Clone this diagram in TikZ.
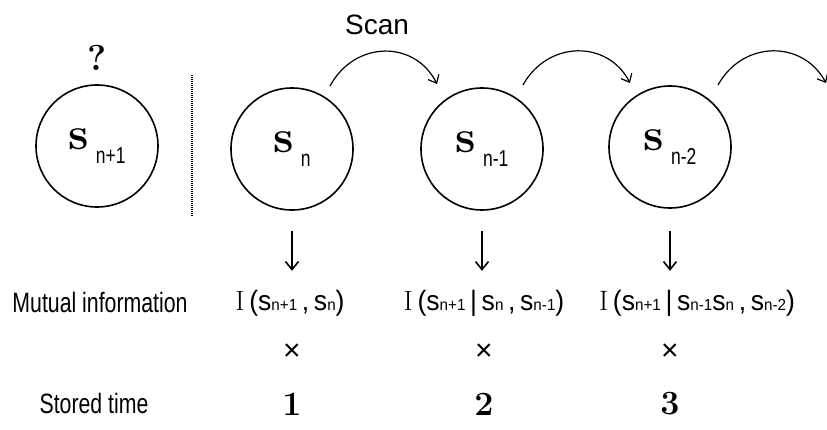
\documentclass[tikz,border=0pt]{standalone}
\usepackage{fontspec}
\newfontfamily\narrowf[FakeStretch=0.76]{Liberation Sans}
\newfontfamily\formf[FakeStretch=0.95]{Liberation Sans}
\newfontfamily\plainf{Liberation Sans}
\usetikzlibrary{arrows.meta}
\tikzset{
  state/.style={circle,draw,line width=1.6pt,minimum size=122pt,inner sep=0pt},
  lbl/.style={font=\narrowf\fontsize{28}{28}\selectfont,inner sep=0pt},
  formula/.style={font=\formf\fontsize{28}{28}\selectfont,inner sep=0pt},
  num/.style={font=\bfseries\fontsize{34}{34}\selectfont,inner sep=0pt},
  cross/.style={font=\plainf\fontsize{30}{30}\selectfont,inner sep=0pt},
  scanarc/.style={line width=1.2pt,-{Straight Barb[length=7pt,width=12pt]}},
  downarr/.style={line width=1.6pt,-{Straight Barb[length=8pt,width=13pt]}},
}
\newcommand{\sname}[1]{{\bfseries\fontsize{46}{46}\selectfont s}\hspace{7pt}\raisebox{-14pt}{\narrowf\fontsize{23}{23}\selectfont #1}}
\newcommand{\ssub}[1]{s{\fontsize{16}{16}\selectfont #1}}
\begin{document}
\begin{tikzpicture}[x=1pt,y=-1pt]
\useasboundingbox (0,0) rectangle (827,430);
% states
\node[state] (snp) at (97,146) {\sname{n+1}};
\node[state] (sn) at (292,149) {\sname{n}};
\node[state] (sn1) at (482,149) {\sname{n-1}};
\node[state] (sn2) at (670,147) {\sname{n-2}};
\node[font=\bfseries\fontsize{36}{36}\selectfont,inner sep=0pt] (q) at (97,58) {?};
% dotted separator
\coordinate (sepT) at (192,75);
\coordinate (sepB) at (192,217);
\draw[line width=2.4pt,dash pattern=on 1pt off 1pt] (sepT) -- (sepB);
% scan
\node[font=\plainf\fontsize{28}{28}\selectfont,inner sep=0pt] (scan) at (377,25) {Scan};
\coordinate (a1s) at (330,86);
\coordinate (a1e) at (437,84);
\coordinate (a2s) at (523,85);
\coordinate (a2e) at (630,83);
\coordinate (a3s) at (718,85);
\coordinate (a3e) at (826,83);
\draw[scanarc] (a1s) .. controls (355,40) and (415,40) .. (a1e);
\draw[scanarc] (a2s) .. controls (548,40) and (608,40) .. (a2e);
\draw[scanarc] (a3s) .. controls (743,40) and (803,40) .. (a3e);
% down arrows
\draw[downarr] ([yshift=-20pt]sn.south) -- ([yshift=-60pt]sn.south);
\draw[downarr] ([yshift=-20pt]sn1.south) -- ([yshift=-60pt]sn1.south);
\draw[downarr] ([yshift=-22pt]sn2.south) -- ([yshift=-62pt]sn2.south);
% rows
\node[lbl] (mi) at (100,302) {Mutual information};
\node[formula] (mi1) at (290,303) {{\rmfamily I}\,(\ssub{n+1}\,,\,\ssub{n})};
\node[formula] (mi2) at (484,303) {{\rmfamily I}\,(\ssub{n+1}\,|\,\ssub{n}\,,\,\ssub{n-1})};
\node[formula] (mi3) at (697,303) {{\rmfamily I}\,(\ssub{n+1}\,|\,\ssub{n-1}\ssub{n}\,,\,\ssub{n-2})};
\node[cross] (x1) at (292,352) {×};
\node[cross] (x2) at (484,352) {×};
\node[cross] (x3) at (670,352) {×};
\node[lbl] (st) at (94,403) {Stored time};
\node[num] (n1) at (292,404) {1};
\node[num] (n2) at (484,404) {2};
\node[num] (n3) at (670,404) {3};
\end{tikzpicture}
\end{document}
